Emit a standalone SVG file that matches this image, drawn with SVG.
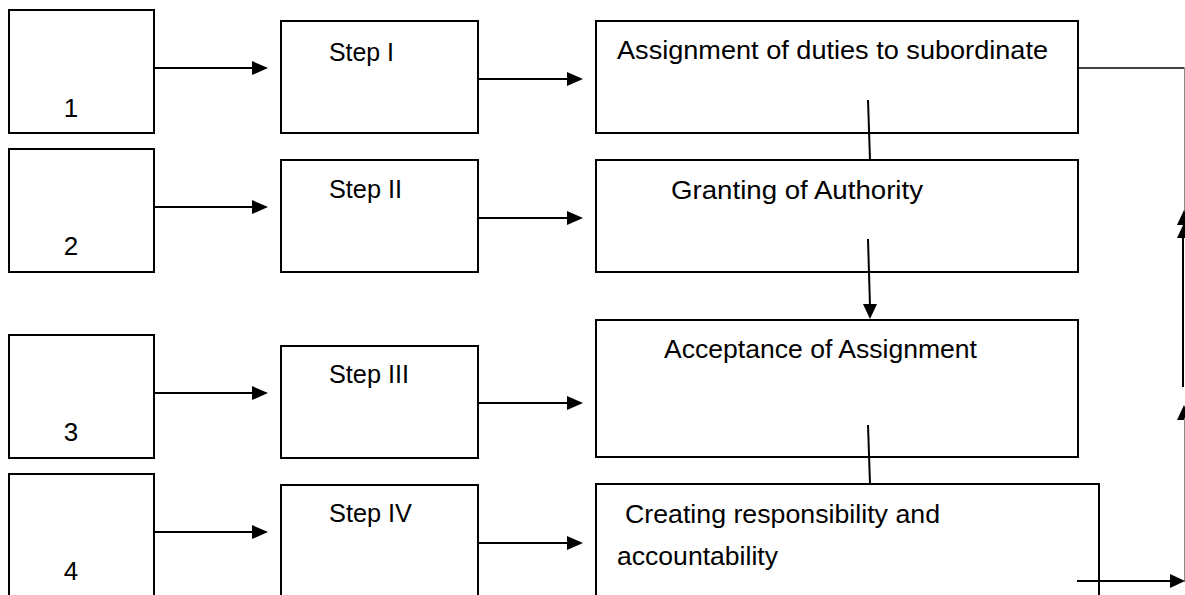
<svg xmlns="http://www.w3.org/2000/svg" width="1185" height="595" viewBox="0 0 1185 595">
<style>
.box{fill:#fff;stroke:#000;stroke-width:2}
.t{font-family:"Liberation Sans",Arial,sans-serif;font-size:26px;fill:#000}
.ln{stroke:#000;stroke-width:2;fill:none}
.thin{stroke:#8a8a8a;stroke-width:1;fill:none}
.hd{fill:#000}
</style>
<rect width="1185" height="595" fill="#fff"/>
<g id="n1"><rect class="box" x="9" y="10" width="145" height="123"/><text class="t" x="71" y="117" text-anchor="middle">1</text></g>
<g id="n2"><rect class="box" x="9" y="149" width="145" height="123"/><text class="t" x="71" y="255" text-anchor="middle">2</text></g>
<g id="n3"><rect class="box" x="9" y="335" width="145" height="123"/><text class="t" x="71" y="441" text-anchor="middle">3</text></g>
<g id="n4"><rect class="box" x="9" y="474" width="145" height="140"/><text class="t" x="71" y="580" text-anchor="middle">4</text></g>
<g id="s1"><rect class="box" x="281" y="21" width="197" height="112"/><text class="t" x="329" y="61" textLength="65" lengthAdjust="spacingAndGlyphs">Step I</text></g>
<g id="s2"><rect class="box" x="281" y="160" width="197" height="112"/><text class="t" x="329" y="198" textLength="73" lengthAdjust="spacingAndGlyphs">Step II</text></g>
<g id="s3"><rect class="box" x="281" y="346" width="197" height="112"/><text class="t" x="329" y="383" textLength="80" lengthAdjust="spacingAndGlyphs">Step III</text></g>
<g id="s4"><rect class="box" x="281" y="485" width="197" height="130"/><text class="t" x="329" y="522" textLength="83" lengthAdjust="spacingAndGlyphs">Step IV</text></g>
<g id="a"><rect class="box" x="596" y="21" width="482" height="112"/><text class="t" x="617" y="59" textLength="431" lengthAdjust="spacingAndGlyphs">Assignment of duties to subordinate</text></g>
<g id="b"><rect class="box" x="596" y="160" width="482" height="112"/><text class="t" x="671" y="199" textLength="252" lengthAdjust="spacingAndGlyphs">Granting of Authority</text></g>
<g id="c"><rect class="box" x="596" y="320" width="482" height="137"/><text class="t" x="664" y="358" textLength="313" lengthAdjust="spacingAndGlyphs">Acceptance of Assignment</text></g>
<g id="d"><rect class="box" x="596" y="484" width="503" height="130"/><text class="t" x="625" y="523" textLength="315" lengthAdjust="spacingAndGlyphs">Creating responsibility and</text><text class="t" x="617" y="565" textLength="161" lengthAdjust="spacingAndGlyphs">accountability</text></g>
<g id="connectors">
<line class="ln" x1="154" y1="68" x2="254" y2="68"/><polygon class="hd" points="252,61 268,68 252,75"/>
<line class="ln" x1="154" y1="207" x2="254" y2="207"/><polygon class="hd" points="252,200 268,207 252,214"/>
<line class="ln" x1="154" y1="393" x2="254" y2="393"/><polygon class="hd" points="252,386 268,393 252,400"/>
<line class="ln" x1="154" y1="532" x2="254" y2="532"/><polygon class="hd" points="252,525 268,532 252,539"/>
<line class="ln" x1="478" y1="79" x2="569" y2="79"/><polygon class="hd" points="567,72 583,79 567,86"/>
<line class="ln" x1="478" y1="218" x2="569" y2="218"/><polygon class="hd" points="567,211 583,218 567,225"/>
<line class="ln" x1="478" y1="403" x2="569" y2="403"/><polygon class="hd" points="567,396 583,403 567,410"/>
<line class="ln" x1="478" y1="543" x2="569" y2="543"/><polygon class="hd" points="567,536 583,543 567,550"/>
<line class="ln" x1="868" y1="100" x2="870" y2="160"/>
<line class="ln" x1="868" y1="239" x2="870" y2="306"/><polygon class="hd" points="863,304 870,319 877,304"/>
<line class="ln" x1="868" y1="425" x2="870" y2="484"/>
<polyline class="ln" style="stroke-width:1.5" points="1078,68 1184.5,68"/>
<line class="thin" x1="1184.5" y1="68" x2="1184.5" y2="212"/>
<polygon class="hd" points="1184,210 1177,225 1191,225"/>
<polygon class="hd" points="1184,223 1177,238 1191,238"/>
<line class="ln" x1="1183" y1="236" x2="1183" y2="387"/>
<polygon class="hd" points="1184,405 1177,420 1191,420"/>
<line class="thin" x1="1184.5" y1="418" x2="1184.5" y2="582"/>
<line class="ln" x1="1077" y1="581" x2="1172" y2="581"/><polygon class="hd" points="1170,574 1185,581 1170,588"/>
</g>
</svg>
